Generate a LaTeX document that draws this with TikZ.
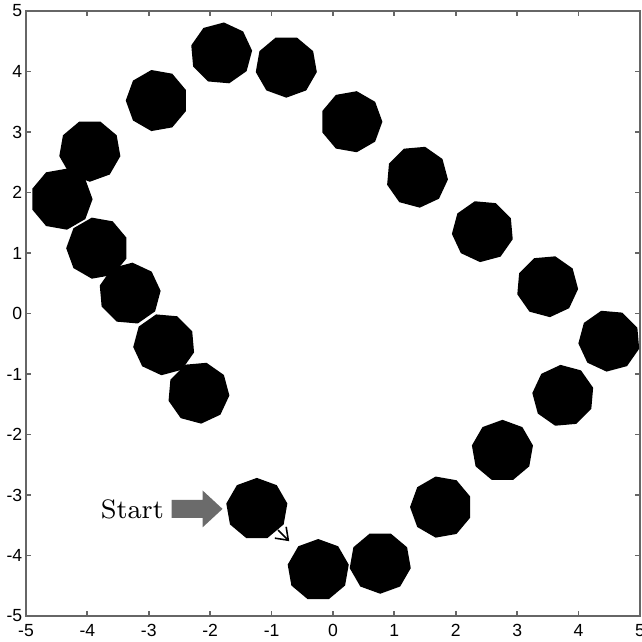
\documentclass[tikz,border=0pt]{standalone}
\usepackage{fontspec}
\newfontfamily\axisfont{Liberation Sans}
\usetikzlibrary{shapes.geometric,arrows.meta,positioning}
\tikzset{
    disc/.style={regular polygon, regular polygon sides=9, fill=black, inner sep=0pt, minimum size=6.2mm},
    axisline/.style={draw=black!60, line width=0.5pt},
    ticklabel/.style={font=\axisfont\fontsize{5}{6}\selectfont, inner sep=0pt},
    startfill/.style={fill=black!58},
    hop/.style={draw, line width=0.45pt, -{Straight Barb[length=1.1mm, width=1.6mm]}, shorten >=1mm}
}
\begin{document}
\begin{tikzpicture}[x=0.614cm, y=0.605cm]
    \useasboundingbox (-5.423,-5.430) rectangle (5.033,5.182);

    % axes
    \draw[axisline] (-5,-5) rectangle (5,5);
    \foreach \t in {-4,...,4} {
        \draw[axisline] (\t,-5) -- ++(0,0.08);
        \draw[axisline] (\t,5) -- ++(0,-0.08);
        \draw[axisline] (-5,\t) -- ++(0.08,0);
        \draw[axisline] (5,\t) -- ++(-0.08,0);
    }
    \foreach \t [count=\k] in {-5,...,5} {
        \node[ticklabel] (xl\k) at (\t,-5.24) {\t};
        \node[ticklabel, anchor=east] (yl\k) at (-5.05,\t) {\t};
    }

    % Nodes
    \node[disc, rotate=0]  (p1)  at (-1.24,-3.23) {};
    \node[disc, rotate=0]  (p2)  at (-0.24,-4.24) {};
    \node[disc, rotate=20] (p3)  at (0.77,-4.12) {};
    \node[disc, rotate=10] (p4)  at (1.76,-3.20) {};
    \node[disc, rotate=0]  (p5)  at (2.76,-2.27) {};
    \node[disc, rotate=5]  (p6)  at (3.75,-1.36) {};
    \node[disc, rotate=15] (p7)  at (4.50,-0.45) {};
    \node[disc, rotate=25] (p8)  at (3.49,0.45) {};
    \node[disc, rotate=15] (p9)  at (2.44,1.36) {};
    \node[disc, rotate=25] (p10) at (1.37,2.26) {};
    \node[disc, rotate=30] (p11) at (0.30,3.17) {};
    \node[disc, rotate=20] (p12) at (-0.76,4.08) {};
    \node[disc, rotate=35] (p13) at (-1.82,4.30) {};
    \node[disc, rotate=10] (p14) at (-2.87,3.52) {};
    \node[disc, rotate=20] (p15) at (-3.96,2.69) {};
    \node[disc, rotate=30] (p16) at (-4.42,1.89) {};
    \node[disc, rotate=10] (p17) at (-3.84,1.08) {};
    \node[disc, rotate=35] (p18) at (-3.31,0.33) {};
    \node[disc, rotate=15] (p19) at (-2.75,-0.51) {};
    \node[disc, rotate=25] (p20) at (-2.19,-1.31) {};

    % start marker
    \coordinate[left=0.4mm of p1] (tip);
    \coordinate[left=5.1mm of tip] (tail);
    \fill[startfill] (tip) -- ++(-2mm,1.85mm) -- ++(0,-0.95mm) -- ++(-3.1mm,0)
        -- ++(0,-1.8mm) -- ++(3.1mm,0) -- ++(0,-0.95mm) -- cycle;
    \node[left=0.7mm of tail, inner sep=0pt, font=\fontsize{7.6}{9}\selectfont] (start) {Start};

    % edges
    \draw[hop] (p1) -- (p2);
\end{tikzpicture}
\end{document}
